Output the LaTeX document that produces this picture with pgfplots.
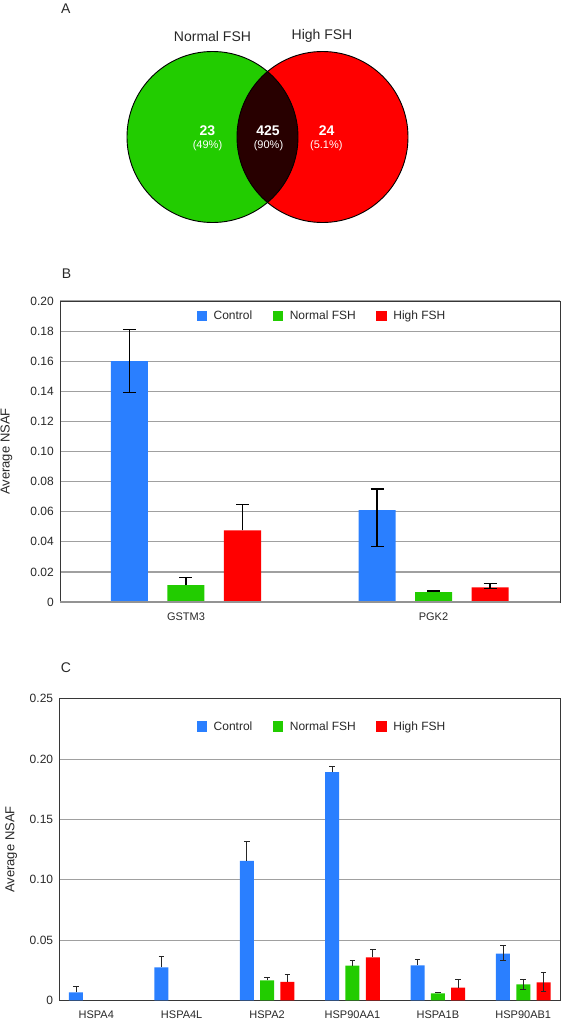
\documentclass[border=0pt]{standalone}
\usepackage{fontspec}
\setmainfont{Liberation Sans}
\usepackage{pgfplots}
\pgfplotsset{compat=1.18}
\definecolor{cblue}{RGB}{42,127,255}
\definecolor{cgreen}{RGB}{34,204,0}
\definecolor{cred}{RGB}{255,0,0}
\definecolor{cdark}{RGB}{40,0,0}
\definecolor{gridc}{RGB}{160,160,160}
\definecolor{axisc}{RGB}{55,55,55}
\definecolor{txt}{RGB}{40,40,40}
\pgfplotsset{
  sqlegend/.style={legend image code/.code={\draw[##1,draw=none] (0pt,-5.25pt) rectangle (10.5pt,5.25pt);}},
  panel/.style={
    scale only axis, clip=false,
    axis line style={axisc, line width=1pt},
    ymajorgrids, grid style={gridc, line width=1.2pt},
    major tick length=0pt,
    /pgf/number format/assume math mode=true,
    yticklabel style={font=\fontsize{12}{14}\selectfont, text=txt, inner sep=0pt, xshift=-6pt},
    xticklabel style={font=\fontsize{11}{13}\selectfont, text=txt, inner sep=0pt, yshift=-10.5pt},
    xtick={0,1,2,3,4,5},
    legend columns=3,
    legend style={draw=none, fill=none, font=\fontsize{12}{14}\selectfont, text=txt,
      nodes={inner sep=0pt},
      /tikz/every odd column/.append style={column sep=6.5pt},
      /tikz/every even column/.append style={column sep=20.5pt}},
    ylabel={Average NSAF},
  },
}
\begin{document}
\begin{tikzpicture}
\useasboundingbox (0pt,0pt) rectangle (561pt,-1020pt);
% ---------------- Panel A: Venn diagram
\begin{axis}[hide axis, scale only axis, width=561pt, height=240pt,
  xmin=0, xmax=561, ymin=-240, ymax=0, at={(0pt,0pt)}, anchor=north west, clip=false]
\fill[cgreen] (axis cs:212.5,-137) circle[radius=85.5];
\fill[cred] (axis cs:322.5,-137) circle[radius=85.5];
\begin{scope}
\clip (axis cs:212.5,-137) circle[radius=85.5];
\fill[cdark] (axis cs:322.5,-137) circle[radius=85.5];
\end{scope}
\draw[black, line width=0.9pt] (axis cs:212.5,-137) circle[radius=85.5];
\draw[black, line width=0.9pt] (axis cs:322.5,-137) circle[radius=85.5];
\node[font=\fontsize{14}{16}\selectfont, text=txt] at (axis cs:65.7,-8.3) {A};
\node[font=\fontsize{14}{16}\selectfont, text=txt] at (axis cs:212.5,-36.3) {Normal FSH};
\node[font=\fontsize{14}{16}\selectfont, text=txt] at (axis cs:322,-36.3) {High FSH};
\node[font=\fontsize{14}{16}\selectfont\bfseries, text=white] at (axis cs:207.5,-130.3) {23};
\node[font=\fontsize{11}{13}\selectfont, text=white] at (axis cs:207.5,-145.7) {(49\%)};
\node[font=\fontsize{14}{16}\selectfont\bfseries, text=white] at (axis cs:268,-130.3) {425};
\node[font=\fontsize{11}{13}\selectfont, text=white] at (axis cs:268.5,-145.7) {(90\%)};
\node[font=\fontsize{14}{16}\selectfont\bfseries, text=white] at (axis cs:326.6,-130.3) {24};
\node[font=\fontsize{11}{13}\selectfont, text=white] at (axis cs:326.3,-145.7) {(5.1\%)};
\end{axis}
\node[font=\fontsize{14}{16}\selectfont, text=txt] at (66.5pt,-274pt) {B};
\node[font=\fontsize{14}{16}\selectfont, text=txt] at (66pt,-667.7pt) {C};
% ---------------- Panel B
\begin{axis}[panel, width=500pt, height=301pt, at={(60pt,-602pt)}, anchor=south west,
  xmin=-0.509, xmax=1.511, ymin=0, ymax=0.20,
  ytick={0,0.02,0.04,0.06,0.08,0.10,0.12,0.14,0.16,0.18,0.20},
  yticklabels={0,0.02,0.04,0.06,0.08,0.10,0.12,0.14,0.16,0.18,0.20},
  xtick={0,1}, xticklabels={GSTM3,PGK2},
  every axis y label/.style={at={(axis description cs:-0.107,0.5)}, rotate=90, anchor=center, font=\fontsize{13}{15}\selectfont, text=txt},
  legend style={at={(0.522,1)}, anchor=center, yshift=-15pt},
  error bars/error bar style={black, line width=1.2pt},
  error bars/error mark options={black, line width=1.2pt, mark size=6.5pt, rotate=90},
]
\addplot[ybar, bar width=0.1495, bar shift=0pt, fill=cblue, draw=none, sqlegend] coordinates {(-0.2283,0.160) (0.7717,0.061)};
\addplot[ybar, bar width=0.1495, bar shift=0pt, fill=cgreen, draw=none, sqlegend] coordinates {(0,0.0113) (1,0.0066)};
\addplot[ybar, bar width=0.1495, bar shift=0pt, fill=cred, draw=none, sqlegend] coordinates {(0.2283,0.0476) (1.2283,0.0098)};
\legend{Control,Normal FSH,High FSH}
\draw[gray!85, line width=2pt] (axis cs:-0.509,0) -- (axis cs:1.511,0);
% error bars with both directions
\addplot[draw=none, mark=none, forget plot, error bars/.cd, y dir=both, y explicit]
  coordinates {(-0.2283,0.160) += (0,0.021) -= (0,0.021)
               (0.7717,0.061) += (0,0.0141) -= (0,0.0243)
               (1.2283,0.0098) += (0,0.0024) -= (0,0.0007)};
% error bars plus only
\addplot[draw=none, mark=none, forget plot, error bars/.cd, y dir=plus, y explicit]
  coordinates {(0,0.0113) +- (0,0.0048)
               (1,0.0066) +- (0,0.0007)
               (0.2283,0.0476) +- (0,0.0173)};
\end{axis}
% ---------------- Panel C
\begin{axis}[panel, width=500.7pt, height=301.6pt, at={(59.3pt,-1000.3pt)}, anchor=south west,
  xmin=-0.433, xmax=5.43, ymin=0, ymax=0.25,
  ytick={0,0.05,0.10,0.15,0.20,0.25},
  yticklabels={0,0.05,0.10,0.15,0.20,0.25},
  xticklabels={HSPA4,HSPA4L,HSPA2,HSP90AA1,HSPA1B,HSP90AB1},
  every axis y label/.style={at={(axis description cs:-0.0959,0.5)}, rotate=90, anchor=center, font=\fontsize{13}{15}\selectfont, text=txt},
  legend style={at={(0.5227,1)}, anchor=center, yshift=-28pt},
  grid style={gridc, line width=0.9pt},
  error bars/error bar style={black!85, line width=0.8pt},
  error bars/error mark options={black!85, line width=0.8pt, mark size=2.8pt, rotate=90},
]
\addplot[ybar, bar width=0.164, bar shift=0pt, fill=cblue, draw=none, sqlegend] coordinates
  {(-0.238,0.0066) (0.762,0.0274) (1.762,0.1155) (2.762,0.1892) (3.762,0.0290) (4.762,0.0386)};
\addplot[ybar, bar width=0.164, bar shift=0pt, fill=cgreen, draw=none, sqlegend] coordinates
  {(2,0.0166) (3,0.0287) (4,0.0058) (5,0.0132)};
\addplot[ybar, bar width=0.164, bar shift=0pt, fill=cred, draw=none, sqlegend] coordinates
  {(2.238,0.0152) (3.238,0.0356) (4.238,0.0105) (5.238,0.0149)};
\legend{Control,Normal FSH,High FSH}
\addplot[draw=none, mark=none, forget plot, error bars/.cd, y dir=plus, y explicit]
  coordinates {(-0.238,0.0066) +- (0,0.0053)
               (0.762,0.0274) +- (0,0.0093)
               (1.762,0.1155) +- (0,0.0163)
               (2.762,0.1892) +- (0,0.0050)
               (3.762,0.0290) +- (0,0.0050)
               (2,0.0166) +- (0,0.0024)
               (3,0.0287) +- (0,0.0044)
               (4,0.0058) +- (0,0.0008)
               (2.238,0.0152) +- (0,0.0063)
               (3.238,0.0356) +- (0,0.0064)
               (4.238,0.0105) +- (0,0.0069)};
\addplot[draw=none, mark=none, forget plot, error bars/.cd, y dir=both, y explicit]
  coordinates {(4.762,0.0386) += (0,0.0067) -= (0,0.0058)
               (5,0.0132) += (0,0.0042) -= (0,0.0041)
               (5.238,0.0149) += (0,0.0083) -= (0,0.0078)};
\end{axis}
\end{tikzpicture}
\end{document}
